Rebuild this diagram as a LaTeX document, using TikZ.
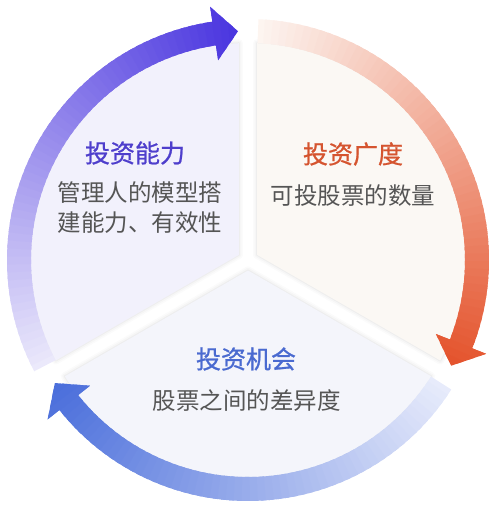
\documentclass[tikz,border=0pt]{standalone}
\usepackage{fontspec}
\newfontfamily\cjk{Noto Sans CJK SC}
\newfontfamily\cjktitle[FakeBold=0.9]{Noto Sans CJK SC}
\usepackage{xcolor}
\usetikzlibrary{positioning}
\definecolor{purpleHead}{HTML}{4A35DF}
\definecolor{purpleTail}{HTML}{ECEAFB}
\definecolor{orangeHead}{HTML}{E4532C}
\definecolor{orangeTail}{HTML}{FDF6F2}
\definecolor{blueHead}{HTML}{4A6EDB}
\definecolor{blueTail}{HTML}{E8ECFB}
\definecolor{sectA}{HTML}{F2F1FC}
\definecolor{sectB}{HTML}{FBF8F4}
\definecolor{sectC}{HTML}{F4F5FB}
\definecolor{purpleTitle}{HTML}{4E3ECC}
\definecolor{orangeTitle}{HTML}{D5542F}
\definecolor{blueTitle}{HTML}{4A6AD0}
\definecolor{bodyGray}{HTML}{555555}
\definecolor{shade}{HTML}{8088C0}

% one sector of the disc, #1 to #2 (counter clockwise), fill #3
\newcommand{\ringsector}[3]{%
  \pgfmathsetmacro{\mid}{(#1+#2)/2}
  \pgfmathsetmacro{\sa}{#1+2.4}
  \pgfmathsetmacro{\sb}{#2-2.4}
  \foreach \w/\o in {8/0.015,5/0.02,2/0.03}
    \draw[shade, opacity=\o, line width=\w, line join=round]
      (\mid:10.4) -- (\sa:217) arc[start angle=\sa, end angle=\sb, radius=217] -- cycle;
  \fill[#3] (\mid:10.4) -- (\sa:217) arc[start angle=\sa, end angle=\sb, radius=217] -- cycle;
}

% curved arrow from tail #1 to tip #2 (clockwise), colours #3 (head) to #4 (tail)
\newcommand{\ringarrow}[4]{%
  \pgfmathsetmacro{\hb}{#2+6}
  \begin{scope}
    \clip (#1:241) arc[start angle=#1, end angle=\hb, radius=241]
      -- (\hb:256) -- (#2:229) -- (\hb:202) -- (\hb:217)
      arc[start angle=\hb, end angle=#1, radius=217] -- cycle;
    \foreach \k in {0,...,59}{
      \pgfmathsetmacro{\aa}{#1+(#2-#1)*(\k-0.2)/60}
      \pgfmathsetmacro{\ab}{#1+(#2-#1)*(\k+1.4)/60}
      \pgfmathsetmacro{\pp}{100*(\k+0.5)/60}
      \fill[#3!\pp!#4] (0,0) -- (\aa:280) arc[start angle=\aa, end angle=\ab, radius=280] -- cycle;
    }
  \end{scope}
}

\begin{document}
\begin{tikzpicture}[
  x=1pt, y=1pt,
  title/.style={font=\cjktitle\fontsize{25}{30}\selectfont},
  desc/.style={font=\cjk\fontsize{23.5}{30}\selectfont, text=bodyGray, align=center}
]
\useasboundingbox (-248,-247) rectangle (251,260);

% the three parts of the disc
\ringsector{90}{210}{sectA}
\ringsector{-30}{90}{sectB}
\ringsector{210}{330}{sectC}

% arrows round the disc
\ringarrow{207.5}{92.5}{purpleHead}{purpleTail}
\ringarrow{87.5}{-27.5}{orangeHead}{orangeTail}
\ringarrow{-32.5}{-147.5}{blueHead}{blueTail}

% texts
\node[title, text=purpleTitle] (abilityTitle) at (-113,107) {投资能力};
\node[desc] (abilityText) at (-108,52) {管理人的模型搭\\建能力、有效性};
\node[title, text=orangeTitle] (breadthTitle) at (105,106) {投资广度};
\node[desc] (breadthText) at (105,64) {可投股票的数量};
\node[title, text=blueTitle] (chanceTitle) at (-2,-99) {投资机会};
\node[desc] (chanceText) at (-1,-141) {股票之间的差异度};
\end{tikzpicture}
\end{document}
